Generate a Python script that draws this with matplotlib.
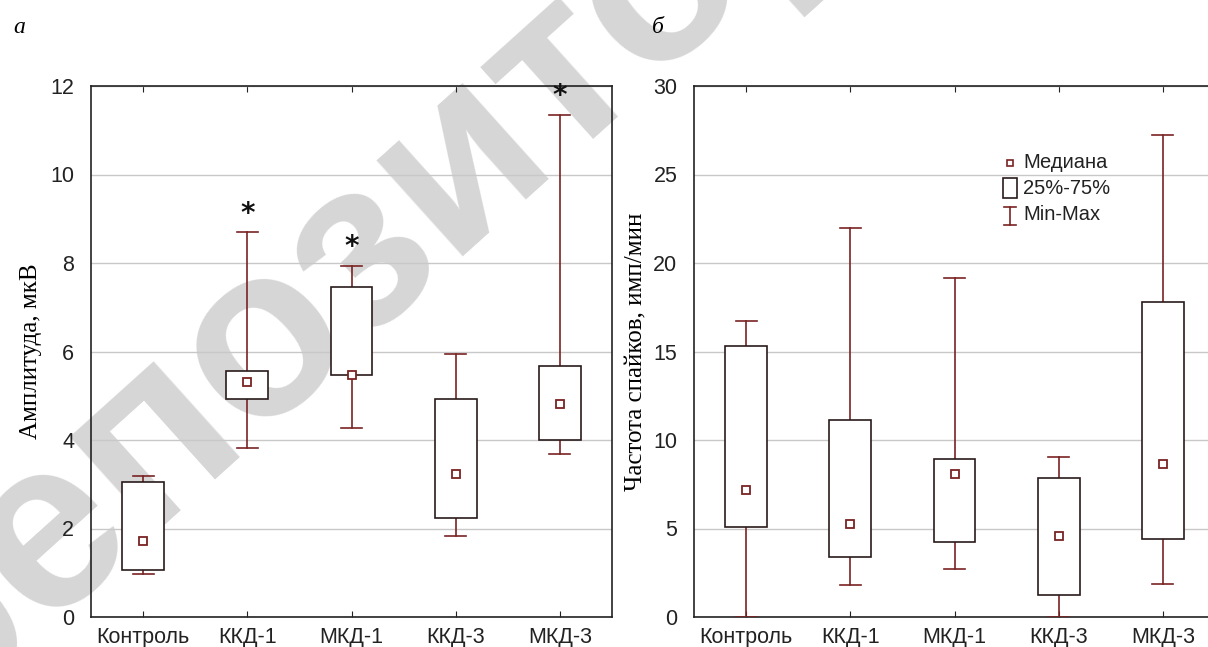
import matplotlib
matplotlib.use("Agg")
import matplotlib.pyplot as plt
from matplotlib.patches import Rectangle

groups = ["Контроль", "ККД-1", "МКД-1", "ККД-3", "МКД-3"]

# panel a: amplitude, mkV
amp_min = [0.98, 3.82, 4.26, 1.84, 3.68]
amp_q1 = [1.07, 4.93, 5.46, 2.23, 4.01]
amp_med = [1.72, 5.31, 5.47, 3.24, 4.81]
amp_q3 = [3.05, 5.57, 7.46, 4.92, 5.68]
amp_max = [3.18, 8.69, 7.94, 5.95, 11.35]
amp_star = [False, True, True, False, True]

# panel b: spike rate, imp/min
rate_min = [0.0, 1.80, 2.71, 0.02, 1.88]
rate_q1 = [5.08, 3.41, 4.25, 1.25, 4.40]
rate_med = [7.19, 5.25, 8.10, 4.55, 8.67]
rate_q3 = [15.32, 11.13, 8.91, 7.85, 17.77]
rate_max = [16.71, 22.0, 19.17, 9.05, 27.25]

WATERMARK = "репозиторий"

WHISK = "#7a2323"
BOXC = "#2a1a1a"
TICK_FONT = "Liberation Sans"
LABEL_FONT = "Liberation Serif"
W, H = 1208, 647


def draw_boxes(ax, vmin, q1, med, q3, vmax, ymax, step):
    for i in range(len(groups)):
        ax.plot([i, i], [vmin[i], q1[i]], color=WHISK, lw=1.2, zorder=3)
        ax.plot([i, i], [q3[i], vmax[i]], color=WHISK, lw=1.2, zorder=3)
        for v in (vmin[i], vmax[i]):
            ax.plot([i - 0.1, i + 0.1], [v, v], color=WHISK, lw=1.2, zorder=3)
        ax.add_patch(Rectangle((i - 0.2, q1[i]), 0.4, q3[i] - q1[i],
                               facecolor="white", edgecolor=BOXC, lw=1.2, zorder=4))
        ax.plot(i, med[i], marker="s", ms=5.5, mfc="white", mec=WHISK,
                mew=1.3, zorder=5)
    ax.set_xlim(-0.5, len(groups) - 0.5)
    ax.set_ylim(0, ymax)
    ax.set_yticks(range(0, ymax + 1, step))
    ax.set_xticks(range(len(groups)))
    ax.set_xticklabels(groups, fontsize=15.5, family=TICK_FONT)
    for lab in ax.get_yticklabels():
        lab.set_fontsize(15.5)
        lab.set_family(TICK_FONT)
    ax.tick_params(axis="x", direction="in", length=4, top=True, pad=7,
                   colors="#222222")
    ax.tick_params(axis="y", direction="in", length=0, pad=12, colors="#222222")
    ax.grid(axis="y", color="#c8c8c8", lw=1)
    ax.set_axisbelow(True)
    ax.set_facecolor("none")
    for s in ax.spines.values():
        s.set_color("#222222")
        s.set_linewidth(1.2)


fig = plt.figure(figsize=(W / 100, H / 100), dpi=100)

# faint diagonal watermark behind both panels
fig.text(-70 / W, 1 - 722 / H, WATERMARK, rotation=42, rotation_mode="anchor",
         ha="left", va="baseline", fontsize=175, fontweight="bold",
         family="Liberation Sans", color="#d6d6d6", zorder=-5)

ax1 = fig.add_axes([91 / W, 1 - 617 / H, 521 / W, 531 / H])
ax2 = fig.add_axes([694 / W, 1 - 617 / H, 521 / W, 531 / H])

draw_boxes(ax1, amp_min, amp_q1, amp_med, amp_q3, amp_max, 12, 2)
draw_boxes(ax2, rate_min, rate_q1, rate_med, rate_q3, rate_max, 30, 5)

for i, flag in enumerate(amp_star):
    if flag:
        ax1.text(i, amp_max[i] + 0.42, "*", ha="center", va="center",
                 fontsize=20, fontweight="bold", color="#111111", zorder=6)

ax1.set_ylabel("Амплитуда, мкВ", family=LABEL_FONT, fontsize=18, labelpad=6)
ax2.set_ylabel("Частота спайков, имп/мин", family=LABEL_FONT, fontsize=18,
               labelpad=4)


# legend drawn by hand in axes coordinates (panel b)
def px(x, y):
    return (x - 694) / 521.0, (617 - y) / 531.0


tr = ax2.transAxes
mx, my = px(1010, 163)
ax2.plot(mx, my, marker="s", ms=5, mfc="white", mec=WHISK, mew=1.2,
         transform=tr, zorder=6)
rx0, ry0 = px(1003, 198)
rx1, ry1 = px(1017, 178)
ax2.add_patch(Rectangle((rx0, ry0), rx1 - rx0, ry1 - ry0, transform=tr,
                        facecolor="white", edgecolor=BOXC, lw=1.2, zorder=6))
ix, iy0 = px(1010, 225)
_, iy1 = px(1010, 207)
ax2.plot([ix, ix], [iy0, iy1], color=WHISK, lw=1.2, transform=tr)
for yy in (iy0, iy1):
    ax2.plot([ix - 0.012, ix + 0.012], [yy, yy], color=WHISK, lw=1.2,
             transform=tr)
for label, yy in (("Медиана", 163), ("25%-75%", 188), ("Min-Max", 215)):
    tx, ty = px(1023, yy)
    ax2.text(tx, ty, label, transform=tr, ha="left", va="center",
             fontsize=14.5, family=TICK_FONT, color="#222222", zorder=6)

fig.text(13 / W, 1 - 33 / H, "а", family=LABEL_FONT, style="italic", fontsize=17)
fig.text(652 / W, 1 - 33 / H, "б", family=LABEL_FONT, style="italic", fontsize=17)

fig.savefig("out.png", dpi=100)
